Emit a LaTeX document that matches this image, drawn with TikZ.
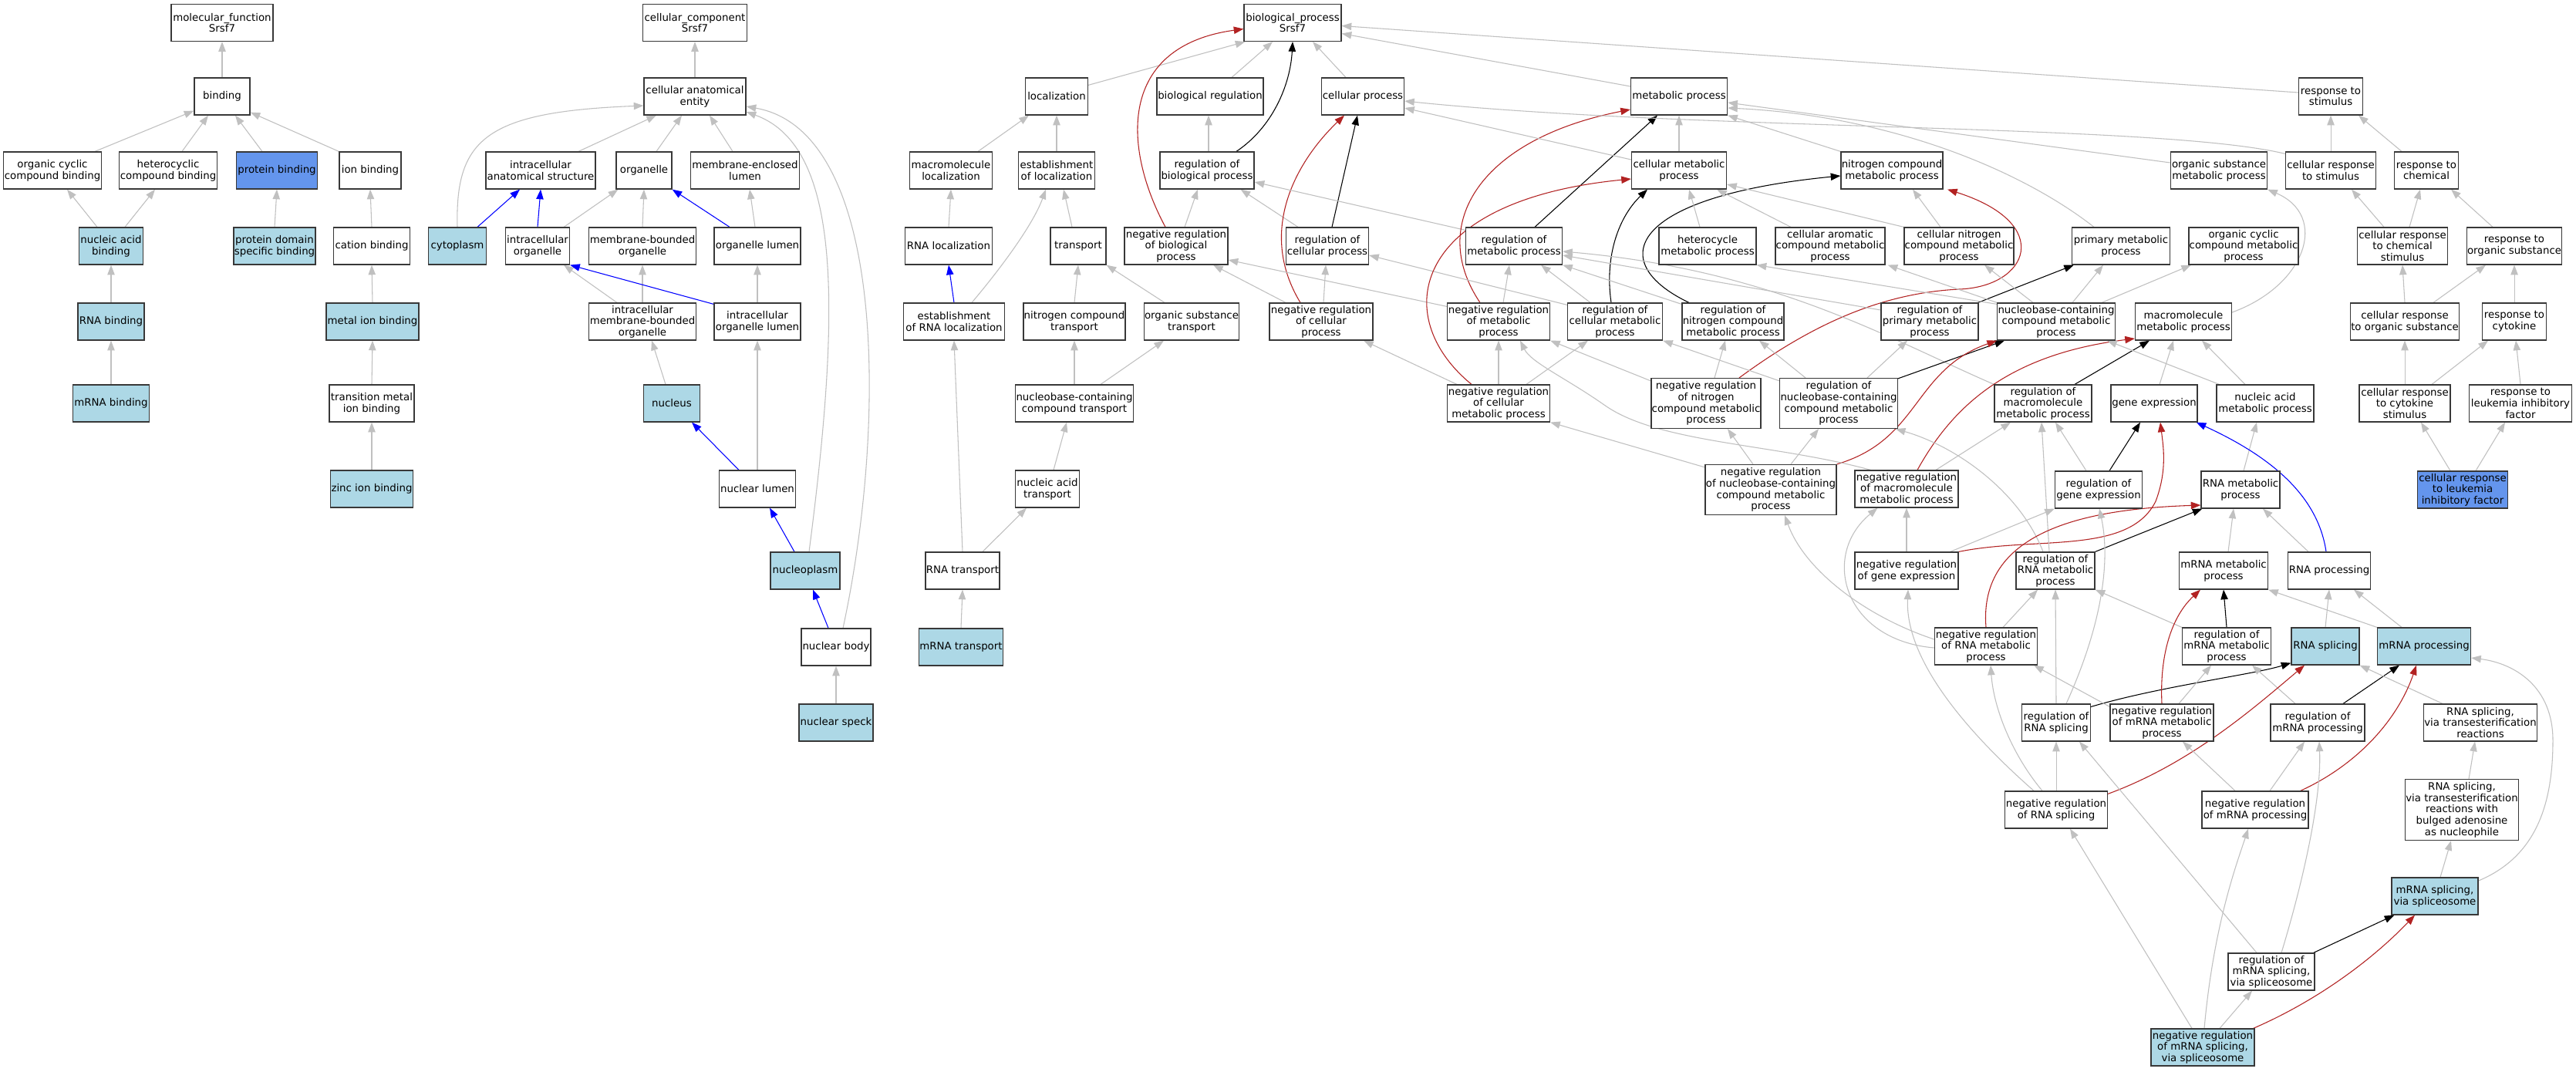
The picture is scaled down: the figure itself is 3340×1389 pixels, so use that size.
\documentclass[tikz,border=0pt]{standalone}
\usepackage{fontspec}
\setmainfont{DejaVu Sans}
\usetikzlibrary{arrows.meta,calc}
\definecolor{lbl}{RGB}{173,216,230}
\definecolor{cfb}{RGB}{100,149,237}
\definecolor{egrey}{RGB}{192,192,192}
\definecolor{fbrick}{RGB}{178,34,34}
\definecolor{pblue}{RGB}{0,0,255}
\pgfdeclarelayer{bg}
\pgfsetlayers{bg,main}
\begin{document}
\begin{tikzpicture}[x=0.75pt,y=-0.75pt,
  box/.style={draw=black!78, line width=0.9pt, fill=white, align=center, inner xsep=0.5pt, inner ysep=0pt, minimum height=36pt, font=\fontsize{10}{11}\selectfont, text=black},
  bw/.style={minimum width=#1*0.75pt},
  hfour/.style={minimum height=48.75pt},
  hfive/.style={minimum height=59.25pt},
  eg/.style={draw=egrey, line width=0.8pt, -{Triangle[length=9.5pt,width=7pt]}},
  ek/.style={draw=black, line width=0.8pt, -{Triangle[length=9.5pt,width=7pt]}},
  er/.style={draw=fbrick, line width=0.8pt, -{Triangle[length=9.5pt,width=7pt]}},
  eb/.style={draw=pblue, line width=0.8pt, -{Triangle[length=9.5pt,width=7pt]}}]
\begin{pgfonlayer}{bg}
\fill[white] (0,0) rectangle (3340,1389);
\end{pgfonlayer}
\useasboundingbox (0,0) rectangle (3340,1389);
% ---------------- molecular function
\node[box,bw=132] (mf) at (288,29.5) {molecular\_function\\Srsf7};
\node[box,bw=72] (bind) at (288,125) {binding};
\node[box,bw=127] (occb) at (68,221) {organic cyclic\\compound binding};
\node[box,bw=127] (hccb) at (218,221) {heterocyclic\\compound binding};
\node[box,bw=105,fill=cfb] (pb) at (359,221) {protein binding};
\node[box,bw=80] (ionb) at (480,221) {ion binding};
\node[box,bw=83,fill=lbl] (nab) at (144,319) {nucleic acid\\binding};
\node[box,bw=106,fill=lbl] (pdsb) at (356,319) {protein domain\\specific binding};
\node[box,bw=99] (catb) at (482,319) {cation binding};
\node[box,bw=86,fill=lbl] (rnab) at (144,417) {RNA binding};
\node[box,bw=120,fill=lbl] (mib) at (483,417) {metal ion binding};
\node[box,bw=99,fill=lbl] (mrnab) at (144,523) {mRNA binding};
\node[box,bw=110] (tmib) at (482,523) {transition metal\\ion binding};
\node[box,bw=107,fill=lbl] (zib) at (482,634) {zinc ion binding};
% ---------------- cellular component
\node[box,bw=135] (cc) at (901,29.5) {cellular\_component\\Srsf7};
\node[box,bw=132] (cae) at (901,125) {cellular anatomical\\entity};
\node[box,bw=142] (ias) at (701,221) {intracellular\\anatomical structure};
\node[box,bw=72] (org) at (835,221) {organelle};
\node[box,bw=141] (mel) at (966,221) {membrane-enclosed\\lumen};
\node[box,bw=75,fill=lbl] (cyto) at (593,319) {cytoplasm};
\node[box,bw=83] (io) at (697,319) {intracellular\\organelle};
\node[box,bw=139] (mbo) at (833,319) {membrane-bounded\\organelle};
\node[box,bw=112] (ol) at (982,319) {organelle lumen};
\node[box,bw=139] (imbo) at (833,417) {intracellular\\membrane-bounded\\organelle};
\node[box,bw=112] (iol) at (982,417) {intracellular\\organelle lumen};
\node[box,bw=73,fill=lbl] (nuc) at (871,523) {nucleus};
\node[box,bw=99] (nl) at (982,634) {nuclear lumen};
\node[box,bw=90,fill=lbl] (np) at (1044,740) {nucleoplasm};
\node[box,bw=90] (nb) at (1084,839) {nuclear body};
\node[box,bw=96,fill=lbl] (ns) at (1084,937) {nuclear speck};
% ---------------- biological process: localization part
\node[box,bw=126] (bp) at (1676,29.5) {biological\_process\\Srsf7};
\node[box,bw=81] (loc) at (1370,125) {localization};
\node[box,bw=138] (biore) at (1569,125) {biological regulation};
\node[box,bw=107] (mloc) at (1233,221) {macromolecule\\localization};
\node[box,bw=99] (eloc) at (1370,221) {establishment\\of localization};
\node[box,bw=122] (rbp) at (1565,221) {regulation of\\biological process};
\node[box,bw=113] (rnaloc) at (1230,319) {RNA localization};
\node[box,bw=72] (transp) at (1398,319) {transport};
\node[box,bw=134] (nrbp) at (1525,319) {negative regulation\\of biological\\process};
\node[box,bw=131] (erl) at (1237,417) {establishment\\of RNA localization};
\node[box,bw=132] (nct) at (1393,417) {nitrogen compound\\transport};
\node[box,bw=123] (ost) at (1545,417) {organic substance\\transport};
\node[box,bw=153] (ncct) at (1393,523) {nucleobase-containing\\compound transport};
\node[box,bw=83] (nat) at (1358,634) {nucleic acid\\transport};
\node[box,bw=96] (rnat) at (1248,740) {RNA transport};
\node[box,bw=107,fill=lbl] (mrnat) at (1246,839) {mRNA transport};
% ---------------- biological process: main part
\node[box,bw=107] (cp) at (1767,125) {cellular process};
\node[box,bw=125] (mp) at (2177,125) {metabolic process};
\node[box,bw=83] (rs) at (3022,125) {response to\\stimulus};
\node[box,bw=107] (rcp) at (1721,319) {regulation of\\cellular process};
\node[box,bw=123] (cmp) at (2177,221) {cellular metabolic\\process};
\node[box,bw=132] (ncmp) at (2453,221) {nitrogen compound\\metabolic process};
\node[box,bw=125] (osmp) at (2877,221) {organic substance\\metabolic process};
\node[box,bw=117] (crs) at (3022,221) {cellular response\\to stimulus};
\node[box,bw=83] (rc) at (3146,221) {response to\\chemical};
\node[box,bw=125] (rmp) at (1963,319) {regulation of\\metabolic process};
\node[box,bw=126] (hmp) at (2214,319) {heterocycle\\metabolic process};
\node[box,bw=142] (camp) at (2373,319) {cellular aromatic\\compound metabolic\\process};
\node[box,bw=142] (cnmp) at (2540,319) {cellular nitrogen\\compound metabolic\\process};
\node[box,bw=127] (pmp) at (2750,319) {primary metabolic\\process};
\node[box,bw=142] (occmp) at (2909,319) {organic cyclic\\compound metabolic\\process};
\node[box,bw=117] (crcs) at (3115,319) {cellular response\\to chemical\\stimulus};
\node[box,bw=123] (ros) at (3260,319) {response to\\organic substance};
\node[box,bw=134] (nrcp) at (1713,417) {negative regulation\\of cellular\\process};
\node[box,bw=133] (nrmp) at (1943,417) {negative regulation\\of metabolic\\process};
\node[box,bw=123] (rcmp) at (2094,417) {regulation of\\cellular metabolic\\process};
\node[box,bw=132] (rncmp) at (2247,417) {regulation of\\nitrogen compound\\metabolic process};
\node[box,bw=126] (rpmp) at (2502,417) {regulation of\\primary metabolic\\process};
\node[box,bw=152] (nbmp) at (2666,417) {nucleobase-containing\\compound metabolic\\process};
\node[box,bw=125] (mmp) at (2831,417) {macromolecule\\metabolic process};
\node[box,bw=141] (cros) at (3118,417) {cellular response\\to organic substance};
\node[box,bw=83] (rcy) at (3260,417) {response to\\cytokine};
\node[box,bw=133] (nrcmp) at (1943,523) {negative regulation\\of cellular\\metabolic process};
\node[box,bw=142,hfour] (nrncmp) at (2212,523) {negative regulation\\of nitrogen\\compound metabolic\\process};
\node[box,bw=152,hfour] (rnbmp) at (2384,523) {regulation of\\nucleobase-containing\\compound metabolic\\process};
\node[box,bw=126] (rmmp) at (2649,523) {regulation of\\macromolecule\\metabolic process};
\node[box,bw=112] (ge) at (2793,523) {gene expression};
\node[box,bw=126] (namp) at (2937,523) {nucleic acid\\metabolic process};
\node[box,bw=118] (crcys) at (3118,523) {cellular response\\to cytokine\\stimulus};
\node[box,bw=133] (rlif) at (3268,523) {response to\\leukemia inhibitory\\factor};
\node[box,bw=170,hfour] (nrnbmp) at (2296,635) {negative regulation\\of nucleobase-containing\\compound metabolic\\process};
\node[box,bw=134] (nrmmp) at (2472,634) {negative regulation\\of macromolecule\\metabolic process};
\node[box,bw=113] (rge) at (2721,635) {regulation of\\gene expression};
\node[box,bw=102] (rnamp) at (2905,635) {RNA metabolic\\process};
\node[box,bw=117,fill=cfb] (crlif) at (3193,635) {cellular response\\to leukemia\\inhibitory factor};
\node[box,bw=134] (nrge) at (2472,740) {negative regulation\\of gene expression};
\node[box,bw=102] (rrnamp) at (2665,740) {regulation of\\RNA metabolic\\process};
\node[box,bw=115] (mrnamp) at (2883,740) {mRNA metabolic\\process};
\node[box,bw=107] (rnap) at (3020,740) {RNA processing};
\node[box,bw=133] (nrrnamp) at (2575,838) {negative regulation\\of RNA metabolic\\process};
\node[box,bw=115] (rmrnamp) at (2887,838) {regulation of\\mRNA metabolic\\process};
\node[box,bw=88,fill=lbl] (rnas) at (3015,838) {RNA splicing};
\node[box,bw=121,fill=lbl] (mrnap) at (3143,838) {mRNA processing};
\node[box,bw=89] (rrnas) at (2666,937) {regulation of\\RNA splicing};
\node[box,bw=134] (nrmrnamp) at (2803,937) {negative regulation\\of mRNA metabolic\\process};
\node[box,bw=122] (rmrnap) at (3005,937) {regulation of\\mRNA processing};
\node[box,bw=147] (rst) at (3216,937) {RNA splicing,\\via transesterification\\reactions};
\node[box,bw=133] (nrrnas) at (2666,1050) {negative regulation\\of RNA splicing};
\node[box,bw=138] (nrmrnap) at (2924,1050) {negative regulation\\of mRNA processing};
\node[box,bw=147,hfive] (rstb) at (3192,1050) {RNA splicing,\\via transesterification\\reactions with\\bulged adenosine\\as nucleophile};
\node[box,bw=112,fill=lbl] (mss) at (3157,1162) {mRNA splicing,\\via spliceosome};
\node[box,bw=112] (rmss) at (2945,1260) {regulation of\\mRNA splicing,\\via spliceosome};
\node[box,bw=134,fill=lbl] (nrmss) at (2856,1358) {negative regulation\\of mRNA splicing,\\via spliceosome};

\begin{pgfonlayer}{bg}
% ---------------- MF edges
\draw[eg] (bind.north) -- (mf.south);
\draw[eg] ($(occb.north)+(55,0)$) -- ($(bind.south west)+(0,-6)$);
\draw[eg] ($(hccb.north)+(18,0)$) -- ($(bind.south)+(-18,0)$);
\draw[eg] ($(pb.north)+(-19,0)$) -- ($(bind.south)+(17,0)$);
\draw[eg] (ionb.north west) -- ($(bind.south east)+(0,-4)$);
\draw[eg] ($(nab.north)+(-18,0)$) -- ($(occb.south)+(19,0)$);
\draw[eg] ($(nab.north)+(18,0)$) -- ($(hccb.south)+(-17,0)$);
\draw[eg] (pdsb.north) -- (pb.south);
\draw[eg] (catb.north) -- (ionb.south);
\draw[eg] (rnab.north) -- (nab.south);
\draw[eg] (mrnab.north) -- (rnab.south);
\draw[eg] (mib.north) -- (catb.south);
\draw[eg] (tmib.north) -- (mib.south);
\draw[eg] (zib.north) -- (tmib.south);
% ---------------- CC edges
\draw[eg] (cae.north) -- (cc.south);
\draw[eg] ($(ias.north)+(49,0)$) -- ($(cae.south)+(-50,0)$);
\draw[eg] ($(org.north)+(16,0)$) -- ($(cae.south)+(-17,0)$);
\draw[eg] ($(mel.north)+(-16,0)$) -- ($(cae.south)+(19,0)$);
\draw[eg] (cyto.north) .. controls (590,180) and (630,145) .. ($(cae.west)+(0,12)$);
\draw[eb] ($(cyto.north)+(26,0)$) -- ($(ias.south)+(-27,0)$);
\draw[eb] (io.north) -- (ias.south);
\draw[eg] ($(io.north east)+(-8,0)$) -- ($(org.south west)+(3,0)$);
\draw[eg] (mbo.north) -- (org.south);
\draw[eb] ($(ol.north)+(-36,0)$) -- (org.south east);
\draw[eg] ($(ol.north)+(-3,0)$) -- ($(mel.south)+(6,0)$);
\draw[eg] ($(imbo.north)+(-33,0)$) -- ($(io.south)+(34,0)$);
\draw[eg] (imbo.north) -- (mbo.south);
\draw[eb] ($(iol.north west)+(0,2)$) -- (io.south east);
\draw[eg] (iol.north) -- (ol.south);
\draw[eg] ($(nuc.north)+(-8,0)$) -- ($(imbo.south)+(12,0)$);
\draw[eb] ($(nl.north)+(-24,0)$) -- ($(nuc.south)+(26,0)$);
\draw[eg] (nl.north) -- (iol.south);
\draw[eb] ($(np.north)+(-14,0)$) -- ($(nl.south)+(16,0)$);
\draw[eg] ($(np.north)+(5,0)$) .. controls (1090,400) and (1092,190) .. ($(cae.east)+(0,20)$);
\draw[eb] ($(nb.north)+(-10,0)$) -- ($(np.south)+(10,0)$);
\draw[eg] ($(nb.north)+(9,0)$) .. controls (1150,550) and (1150,170) .. ($(cae.east)+(0,13)$);
\draw[eg] (ns.north) -- (nb.south);
% ---------------- localization edges
\draw[eg] ($(loc.north east)+(0,10)$) -- ($(bp.south west)+(2,0)$);
\draw[eg] ($(biore.north)+(28,0)$) -- ($(bp.south)+(-26,0)$);
\draw[eg] ($(rbp.north)+(2,0)$) -- ($(biore.south)+(-2,0)$);
\draw[ek] ($(rbp.north)+(38,0)$) .. controls (1650,165) and (1673,110) .. (bp.south);
\draw[er] ($(nrbp.north)+(-14,0)$) .. controls (1455,190) and (1450,60) .. ($(bp.west)+(0,8)$);
\draw[eg] ($(nrbp.north)+(11,0)$) -- ($(rbp.south)+(-12,0)$);
\draw[eg] ($(mloc.north)+(35,0)$) -- ($(loc.south)+(-36,0)$);
\draw[eg] (eloc.north) -- (loc.south);
\draw[eg] (rnaloc.north) -- (mloc.south);
\draw[eg] ($(transp.north)+(-8,0)$) -- ($(eloc.south)+(9,0)$);
\draw[eb] (erl.north) -- (rnaloc.south);
\draw[eg] ($(erl.north)+(23,0)$) .. controls (1300,345) and (1340,290) .. ($(eloc.south)+(-14,0)$);
\draw[eg] (nct.north) -- (transp.south);
\draw[eg] ($(ost.north)+(-35,0)$) -- (transp.south east);
\draw[eg] (ncct.north) -- (nct.south);
\draw[eg] ($(ncct.north)+(34,0)$) -- ($(ost.south)+(-36,0)$);
\draw[eg] ($(nat.north)+(8,0)$) -- ($(ncct.south)+(-10,0)$);
\draw[eg] ($(rnat.north)+(26,0)$) -- ($(nat.south)+(-27,0)$);
\draw[eg] (rnat.north) -- (erl.south);
\draw[eg] (mrnat.north) -- (rnat.south);
% ---------------- main BP edges
\draw[eg] ($(cp.north)+(-22,0)$) -- ($(bp.south)+(26,0)$);
\draw[eg] ($(mp.west)+(0,-13)$) -- ($(bp.east)+(0,14)$);
\draw[eg] ($(rs.west)+(0,-5)$) -- ($(bp.east)+(0,4)$);
\draw[ek] ($(rcp.north)+(6,0)$) -- ($(cp.south)+(-7,0)$);
\draw[eg] ($(rcp.north)+(-38,0)$) -- ($(rbp.south east)+(-18,0)$);
\draw[er] ($(nrcp.north)+(-27,0)$) .. controls (1630,300) and (1680,210) .. ($(cp.south)+(-24,0)$);
\draw[eg] ($(nrcp.north)+(3,0)$) -- ($(rcp.south)+(-2,0)$);
\draw[eg] ($(nrcp.north)+(-46,0)$) -- ($(nrbp.south)+(48,0)$);
\draw[eg] ($(nrmp.north west)+(0,5)$) -- ($(nrbp.east)+(0,18)$);
\draw[ek] ($(rmp.north)+(27,0)$) -- ($(mp.south)+(-28,0)$);
\draw[eg] ($(rmp.north west)+(0,4)$) -- ($(rbp.east)+(0,15)$);
\draw[er] ($(nrmp.north)+(-24,0)$) .. controls (1850,290) and (1920,180) .. ($(mp.west)+(0,17)$);
\draw[eg] ($(nrmp.north)+(6,0)$) -- ($(rmp.south)+(-6,0)$);
\draw[eg] (cmp.north) -- (mp.south);
\draw[eg] ($(cmp.west)+(0,-14)$) -- ($(cp.east)+(0,15)$);
\draw[ek] ($(rcmp.north)+(-5,0)$) .. controls (2080,330) and (2100,280) .. ($(cmp.south)+(-41,0)$);
\draw[eg] ($(rcmp.north)+(-32,0)$) -- ($(rmp.south)+(35,0)$);
\draw[eg] ($(rcmp.north west)+(0,3)$) -- ($(rcp.east)+(0,12)$);
\draw[er] ($(nrcmp.north)+(-35,0)$) .. controls (1800,410) and (1830,260) .. ($(cmp.west)+(0,11)$);
\draw[eg] (nrcmp.north) -- (nrmp.south);
\draw[eg] ($(nrcmp.north)+(36,0)$) -- ($(rcmp.south)+(-35,0)$);
\draw[eg] ($(nrcmp.north)+(-54,0)$) -- ($(nrcp.south)+(55,0)$);
\draw[eg] (ncmp.north west) -- (mp.south east);
\draw[ek] ($(rncmp.north)+(-57,0)$) .. controls (2080,340) and (2110,255) .. ($(ncmp.west)+(0,7)$);
\draw[eg] ($(rncmp.north west)+(0,2)$) -- (rmp.south east);
\draw[er] ($(nrncmp.north)+(43,0)$) .. controls (2350,420) and (2440,380) .. (2540,375) .. controls (2630,372) and (2665,290) .. ($(ncmp.south)+(72,0)$);
\draw[eg] ($(nrncmp.north)+(11,0)$) -- ($(rncmp.south)+(-10,0)$);
\draw[eg] ($(nrncmp.north west)+(0,4)$) -- (nrmp.south east);
\draw[eg] ($(hmp.north)+(-10,0)$) -- ($(cmp.south)+(13,0)$);
\draw[eg] ($(camp.north)+(-51,0)$) -- ($(cmp.south)+(49,0)$);
\draw[eg] (cnmp.north west) -- ($(cmp.east)+(0,18)$);
\draw[eg] ($(cnmp.north)+(-24,0)$) -- ($(ncmp.south)+(27,0)$);
\draw[ek] ($(rpmp.north east)+(-1,0)$) -- ($(pmp.south west)+(3,0)$);
\draw[eg] ($(rpmp.west)+(0,-15)$) -- ($(rmp.east)+(0,12)$);
\draw[eg] (rmmp.north west) .. controls (2450,440) and (2300,350) .. ($(rmp.east)+(0,7)$);
\draw[eg] ($(nbmp.north)+(-30,0)$) -- ($(cnmp.south)+(33,0)$);
\draw[eg] ($(nbmp.north)+(21,0)$) -- ($(pmp.south)+(-23,0)$);
\draw[eg] ($(nbmp.north)+(59,0)$) -- ($(occmp.south)+(-68,0)$);
\draw[eg] ($(nbmp.north west)+(0,2)$) -- (hmp.south east);
\draw[eg] (nbmp.north west) -- ($(camp.south east)+(3,0)$);
\draw[eg] ($(pmp.north)+(-35,0)$) .. controls (2620,220) and (2450,150) .. ($(mp.east)+(0,15)$);
\draw[eg] ($(osmp.west)+(0,-10)$) -- ($(mp.east)+(0,8)$);
\draw[eg] ($(mmp.east)+(0,-12)$) .. controls (2990,370) and (3020,280) .. (osmp.south east);
\draw[eg] (crs.north) -- (rs.south);
\draw[eg] ($(crs.north west)+(0,3)$) .. controls (2800,160) and (2200,170) .. ($(cp.east)+(0,6)$);
\draw[eg] ($(rc.north)+(-32,0)$) -- ($(rs.south)+(36,0)$);
\draw[eg] ($(crcs.north)+(-24,0)$) -- ($(crs.south)+(27,0)$);
\draw[eg] ($(crcs.north)+(9,0)$) -- ($(rc.south)+(-8,0)$);
\draw[eg] ($(ros.north)+(-28,0)$) -- ($(rc.south)+(32,0)$);
\draw[eg] (cros.north) -- (crcs.south);
\draw[eg] ($(cros.north)+(37,0)$) -- ($(ros.south)+(-37,0)$);
\draw[eg] (rcy.north) -- (ros.south);
\draw[eg] (crcys.north) -- (cros.south);
\draw[eg] ($(crcys.north)+(35,0)$) -- ($(rcy.south)+(-34,0)$);
\draw[eg] (rlif.north) -- ($(rcy.south)+(2,0)$);
\draw[eg] ($(crlif.north)+(-16,0)$) -- ($(crcys.south)+(21,0)$);
\draw[eg] ($(crlif.north)+(17,0)$) -- ($(rlif.south)+(-20,0)$);
\draw[ek] ($(rnbmp.north east)+(0,1)$) -- ($(nbmp.south)+(-67,0)$);
\draw[eg] ($(rnbmp.north)+(-43,0)$) -- ($(rncmp.south)+(34,0)$);
\draw[eg] ($(rnbmp.north west)+(0,4)$) -- (rcmp.south east);
\draw[eg] ($(rnbmp.north)+(37,0)$) -- ($(rpmp.south)+(-29,0)$);
\draw[er] (nrnbmp.north east) .. controls (2490,570) and (2480,480) .. ($(nbmp.south)+(-77,0)$);
\draw[eg] ($(nrnbmp.north)+(26,0)$) -- ($(rnbmp.south)+(-26,0)$);
\draw[eg] ($(nrnbmp.north)+(-23,0)$) -- ($(nrncmp.south)+(28,0)$);
\draw[eg] ($(nrnbmp.north west)+(0,4)$) -- (nrcmp.south east);
\draw[er] ($(nrmmp.north)+(14,0)$) .. controls (2530,530) and (2600,460) .. ($(mmp.west)+(0,22)$);
\draw[eg] ($(nrmmp.north)+(38,0)$) -- ($(rmmp.south)+(-42,0)$);
\draw[eg] ($(nrmmp.north west)+(21,0)$) .. controls (2300,575) and (2150,575) .. (2080,525) .. controls (2030,490) and (1985,470) .. ($(nrmp.south)+(28,0)$);
\draw[ek] ($(rmmp.north)+(41,0)$) -- ($(mmp.south)+(-44,0)$);
\draw[eg] ($(ge.north)+(7,0)$) -- ($(mmp.south)+(-13,0)$);
\draw[eg] ($(namp.north)+(-26,0)$) -- ($(mmp.south)+(24,0)$);
\draw[eg] ($(namp.north west)+(4,0)$) -- ($(nbmp.south)+(66,0)$);
\draw[ek] ($(rge.north)+(14,0)$) -- ($(ge.south)+(-18,0)$);
\draw[eg] ($(rge.north)+(-16,0)$) -- ($(rmmp.south)+(16,0)$);
\draw[er] (nrge.north east) .. controls (2640,695) and (2760,720) .. (2795,650) .. controls (2810,610) and (2805,580) .. ($(ge.south)+(8,0)$);
\draw[eg] ($(nrge.north east)+(-11,0)$) -- (rge.south west);
\draw[eg] (nrge.north) -- (nrmmp.south);
\draw[eg] ($(rnamp.north)+(4,0)$) -- ($(namp.south)+(-11,0)$);
\draw[ek] (rrnamp.north east) -- ($(rnamp.south west)+(2,0)$);
\draw[eg] ($(rrnamp.north)+(-8,0)$) -- ($(rmmp.south)+(-2,0)$);
\draw[eg] ($(rrnamp.north)+(-16,0)$) .. controls (2620,640) and (2540,580) .. ($(rnbmp.south east)+(-3,0)$);
\draw[er] (nrrnamp.north) .. controls (2565,690) and (2700,660) .. ($(rnamp.west)+(0,20)$);
\draw[eg] ($(nrrnamp.north)+(22,0)$) -- ($(rrnamp.south)+(-23,0)$);
\draw[eg] ($(nrrnamp.west)+(0,-9)$) .. controls (2420,800) and (2340,740) .. ($(nrnbmp.south)+(18,0)$);
\draw[eg] ($(nrrnamp.west)+(0,2)$) .. controls (2390,830) and (2360,720) .. ($(nrmmp.south west)+(30,0)$);
\draw[eg] ($(mrnamp.north)+(6,0)$) -- ($(rnamp.south)+(-9,0)$);
\draw[eg] ($(rnap.north)+(-27,0)$) -- ($(rnamp.south)+(29,0)$);
\draw[eb] ($(rnap.north)+(-4,0)$) .. controls (3005,640) and (2940,590) .. ($(ge.south east)+(-2,0)$);
\draw[ek] (rmrnamp.north) -- (mrnamp.south);
\draw[eg] (rmrnamp.north west) -- (rrnamp.south east);
\draw[eg] (rnas.north) -- (rnap.south);
\draw[eg] (mrnap.north west) -- (mrnamp.south east);
\draw[eg] ($(mrnap.north)+(-29,0)$) -- ($(rnap.south)+(32,0)$);
\draw[ek] ($(rrnas.north east)+(0,4)$) .. controls (2800,890) and (2920,875) .. ($(rnas.south west)+(0,-3)$);
\draw[eg] (rrnas.north) -- (rrnamp.south);
\draw[eg] ($(rrnas.north)+(13,0)$) .. controls (2730,800) and (2735,720) .. ($(rge.south)+(1,0)$);
\draw[er] (nrmrnamp.north) .. controls (2800,850) and (2815,800) .. ($(mrnamp.south)+(-30,0)$);
\draw[eg] ($(nrmrnamp.north)+(22,0)$) -- ($(rmrnamp.south)+(-20,0)$);
\draw[eg] ($(nrmrnamp.north west)+(0,4)$) -- ($(nrrnamp.south east)+(-5,0)$);
\draw[ek] ($(rmrnap.north)+(33,0)$) -- ($(mrnap.south)+(-32,0)$);
\draw[eg] ($(rmrnap.north)+(-29,0)$) -- ($(rmrnamp.south)+(33,0)$);
\draw[eg] ($(rst.north)+(-49,0)$) -- (rnas.south east);
\draw[er] ($(nrrnas.north east)+(0,4)$) .. controls (2840,990) and (2920,920) .. ($(rnas.south)+(-27,0)$);
\draw[eg] (nrrnas.north) -- (rrnas.south);
\draw[eg] ($(nrrnas.north)+(-18,0)$) .. controls (2610,980) and (2585,920) .. ($(nrrnamp.south)+(6,0)$);
\draw[eg] ($(nrrnas.north)+(-29,0)$) .. controls (2540,940) and (2470,850) .. ($(nrge.south)+(2,0)$);
\draw[er] ($(nrmrnap.north east)+(-11,0)$) .. controls (3060,990) and (3110,930) .. ($(mrnap.south)+(-10,0)$);
\draw[eg] ($(nrmrnap.north)+(19,0)$) -- ($(rmrnap.south)+(-17,0)$);
\draw[eg] ($(nrmrnap.north)+(-26,0)$) -- ($(nrmrnamp.south)+(27,0)$);
\draw[eg] ($(rstb.north)+(9,0)$) -- ($(rst.south)+(-7,0)$);
\draw[eg] ($(mss.north)+(7,0)$) -- ($(rstb.south)+(-14,0)$);
\draw[eg] ($(mss.east)+(0,-20)$) .. controls (3290,1110) and (3310,1040) .. (3310,960) .. controls (3310,890) and (3260,860) .. ($(mrnap.east)+(0,15)$);
\draw[ek] ($(rmss.north east)+(-2,0)$) -- ($(mss.south west)+(4,0)$);
\draw[eg] ($(rmss.north)+(-19,0)$) -- ($(rrnas.south)+(30,0)$);
\draw[eg] ($(rmss.north)+(13,0)$) .. controls (2990,1130) and (3010,1030) .. ($(rmrnap.south)+(2,0)$);
\draw[er] ($(nrmss.north east)+(-2,0)$) .. controls (3010,1295) and (3080,1240) .. ($(mss.south)+(-26,0)$);
\draw[eg] ($(nrmss.north)+(22,0)$) -- ($(rmss.south)+(-25,0)$);
\draw[eg] ($(nrmss.north)+(-14,0)$) -- ($(nrrnas.south)+(18,0)$);
\draw[eg] ($(nrmss.north)+(2,0)$) .. controls (2870,1200) and (2900,1120) .. ($(nrmrnap.south)+(-9,0)$);
\end{pgfonlayer}
\end{tikzpicture}
\end{document}
